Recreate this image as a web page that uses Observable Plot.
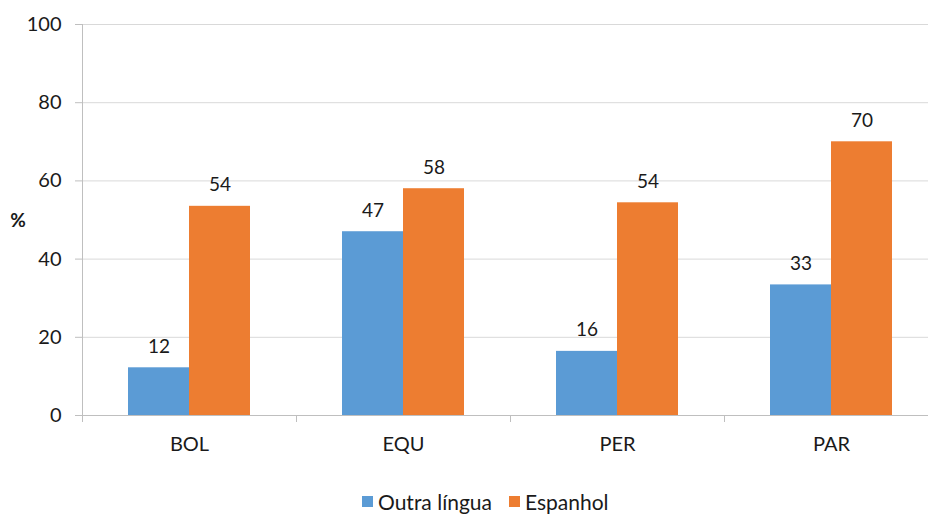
<!DOCTYPE html>
<html>
<head>
<meta charset="utf-8">
<script src="https://cdn.jsdelivr.net/npm/d3@7"></script>
<script src="https://cdn.jsdelivr.net/npm/@observablehq/plot@0.6"></script>
<style>
  html, body { margin: 0; padding: 0; background: #fff; overflow: hidden; width: 928px; height: 515px; }
  #chart { position: absolute; left: 0; top: 0; width: 938px; }
  #chart svg { max-width: none !important; }
  #legend { position: absolute; left: 362px; top: 489px; display: flex; align-items: center; font-family: Lato, "Open Sans", sans-serif; font-size: 21px; color: #1a1a1a; }
  .sw { width: 11px; height: 11px; display: inline-block; margin-right: 5px; }
  .item { display: flex; align-items: center; margin-right: 17px; }
</style>
</head>
<body>
<div id="chart"></div>
<div id="legend"></div>
<script>
const countries = ["BOL", "EQU", "PER", "PAR"];
const seriesNames = ["Outra língua", "Espanhol"];
const outraLingua = [12.2, 47.0, 16.4, 33.4];
const espanhol = [53.5, 58.0, 54.4, 70.0];
const colors = ["#5B9BD5", "#ED7D31"];
const yTicks = [0, 20, 40, 60, 80, 100];

const data = [];
countries.forEach((c, i) => {
  data.push({country: c, series: seriesNames[0], value: outraLingua[i]});
  data.push({country: c, series: seriesNames[1], value: espanhol[i]});
});

const font = "Lato, 'Open Sans', sans-serif";
const plot = Plot.plot({
  width: 938,
  height: 470,
  marginLeft: 82,
  marginRight: 0,
  marginTop: 24,
  marginBottom: 55,
  style: {fontFamily: font, fontSize: "20px", color: "#1a1a1a", background: "#fff", maxWidth: "none"},
  fx: {domain: countries, padding: 0, label: null},
  x: {domain: seriesNames, paddingInner: 0, paddingOuter: 0.75, axis: null},
  y: {domain: [0, 100]},
  color: {domain: seriesNames, range: colors},
  marks: [
    Plot.gridY(yTicks, {stroke: "#D9D9D9", strokeOpacity: 1}),
    Plot.axisY(yTicks, {tickSize: 7, tickPadding: 14, stroke: "#BFBFBF", strokeOpacity: 1, label: null, fontSize: 20}),
    Plot.axisFx({anchor: "bottom", tickSize: 0, tickPadding: 21, label: null, fontSize: 20}),
    Plot.barY(data, {fx: "country", x: "series", y: "value", fill: "series"}),
    Plot.text(data, {fx: "country", x: "series", y: "value", text: d => d3.format(".0f")(d.value), dy: -21, fontSize: 19, fill: "#1a1a1a"}),
    Plot.ruleY([0], {stroke: "#BFBFBF", strokeWidth: 1})
  ]
});
plot.style.maxWidth = "none";
document.getElementById("chart").appendChild(plot);

// axis lines & category boundary ticks, positioned through the plot's scales
const fx = plot.scale("fx");
const y = plot.scale("y");
const svg = d3.select(plot);
const y0 = y.apply(0), y100 = y.apply(100);
const bounds = countries.map(c => fx.apply(c));
bounds.push(fx.apply(countries[countries.length - 1]) + fx.bandwidth);
const g = svg.append("g").attr("stroke", "#BFBFBF").attr("stroke-width", 1);
g.append("line").attr("x1", bounds[0] + 0.5).attr("x2", bounds[0] + 0.5).attr("y1", y100).attr("y2", y0 + 7);
bounds.forEach(b => {
  g.append("line").attr("x1", b + 0.5).attr("x2", b + 0.5).attr("y1", y0).attr("y2", y0 + 7);
});
svg.append("text")
  .attr("x", 18).attr("y", (y0 + y100) / 2 + 3)
  .attr("text-anchor", "middle").attr("dominant-baseline", "middle")
  .attr("font-weight", "bold").attr("font-size", 19).attr("fill", "#1a1a1a")
  .text("%");

const legend = document.getElementById("legend");
seriesNames.forEach((s, i) => {
  const it = document.createElement("div");
  it.className = "item";
  it.innerHTML = `<span class="sw" style="background:${colors[i]}"></span><span>${s}</span>`;
  legend.appendChild(it);
});
</script>
</body>
</html>
